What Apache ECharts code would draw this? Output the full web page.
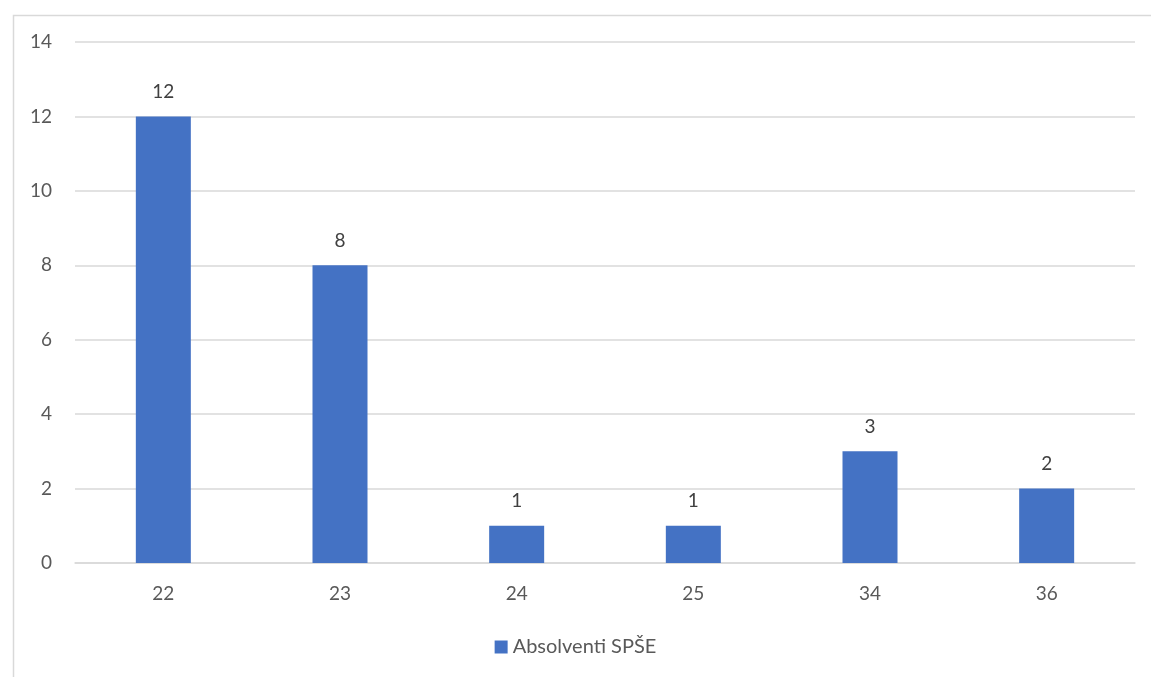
<!DOCTYPE html>
<html><head><meta charset="utf-8">
<script src="https://cdn.jsdelivr.net/npm/echarts@6/dist/echarts.min.js"></script>
<style>html,body{margin:0;padding:0;background:#fff}#c{width:1151px;height:677px}</style>
</head><body><div id="c"></div>
<script>
const categories = ['22', '23', '24', '25', '34', '36'];
const values = [12, 8, 1, 1, 3, 2];
const seriesName = 'Absolventi SPŠE';
const font = 'Lato';
const chart = echarts.init(document.getElementById('c'));
chart.setOption({
  animation: false,
  graphic: [{type: 'rect', left: 11, top: 13, shape: {width: 1160, height: 700}, style: {fill: 'none', stroke: '#d9d9d9', lineWidth: 1.5}, silent: true}],
  grid: {left: 75, right: 16, top: 42, bottom: 114, containLabel: false},
  legend: {bottom: 15, left: 'center', itemWidth: 13, itemHeight: 13, itemGap: 8,
    icon: 'rect', textStyle: {fontFamily: font, fontSize: 20, color: '#595959'}, data: [seriesName]},
  xAxis: {type: 'category', data: categories,
    axisLine: {lineStyle: {color: '#d9d9d9', width: 1.5}}, axisTick: {show: false},
    axisLabel: {fontFamily: font, fontSize: 19, color: '#595959', margin: 21}},
  yAxis: {type: 'value', min: 0, max: 14, interval: 2,
    axisLine: {show: false}, axisTick: {show: false},
    splitLine: {lineStyle: {color: '#d9d9d9', width: 1.5}},
    axisLabel: {fontFamily: font, fontSize: 19, color: '#595959', margin: 23, align: 'right'}},
  series: [{name: seriesName, type: 'bar', data: values, barWidth: 55,
    itemStyle: {color: '#4472c4'},
    label: {show: true, position: 'top', distance: 15, fontFamily: font, fontSize: 19, color: '#404040'}}]
});
</script></body></html>
